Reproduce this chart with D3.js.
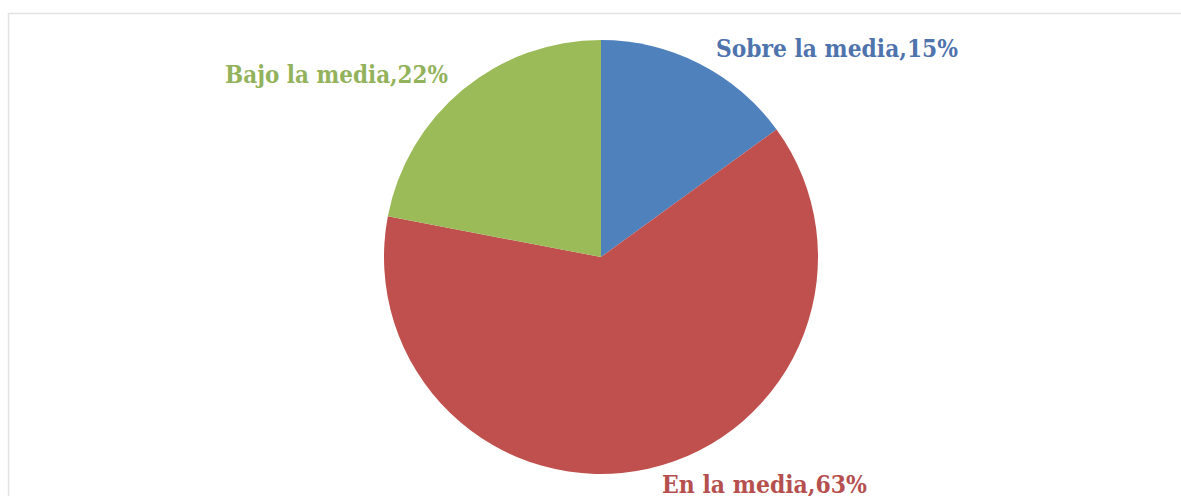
<!DOCTYPE html>
<html>
<head>
<meta charset="utf-8">
<script src="https://cdn.jsdelivr.net/npm/d3@7"></script>
<style>
  html, body { margin: 0; padding: 0; background: #fff; overflow: hidden; }
  svg { display: block; }
</style>
</head>
<body>
<svg width="1181" height="496"></svg>
<script>
"use strict";

// chart data
var categories = ["Sobre la media", "En la media", "Bajo la media"];
var values = [15, 63, 22];
var colors = ["#4F81BD", "#C0504D", "#9BBB59"];
var labelColors = ["#4f74ad", "#b5504e", "#93b25c"];
// where each label sits: [left x, baseline y, width]
var labelPos = [[716, 57, 242], [662, 493, 205], [225, 83, 223]];

var svg = d3.select('svg');

// chart frame
svg.append('rect')
	.attr('x', 8.5).attr('y', 13.5)
	.attr('width', 1200).attr('height', 500)
	.attr('fill', '#fff')
	.attr('stroke', '#e2e2e2')
	.attr('stroke-width', 1.5);

var cx = 601, cy = 257, r = 217;

var pie = d3.pie().sort(null).value(function(d) { return d; });
var arc = d3.arc().innerRadius(0).outerRadius(r);

var g = svg.append('g').attr('transform', 'translate(' + cx + ',' + cy + ')');
g.selectAll('path')
	.data(pie(values))
	.enter().append('path')
	.attr('d', arc)
	.attr('fill', function(d, i) { return colors[i]; });

svg.selectAll('text.lbl')
	.data(categories)
	.enter().append('text')
	.attr('class', 'lbl')
	.attr('x', function(d, i) { return labelPos[i][0]; })
	.attr('y', function(d, i) { return labelPos[i][1]; })
	.attr('textLength', function(d, i) { return labelPos[i][2]; })
	.attr('lengthAdjust', 'spacingAndGlyphs')
	.attr('font-family', 'DejaVu Serif, serif')
	.attr('font-weight', 'bold')
	.attr('font-size', 24)
	.attr('fill', function(d, i) { return labelColors[i]; })
	.text(function(d, i) { return d + ',' + values[i] + '%'; });
</script>
</body>
</html>
